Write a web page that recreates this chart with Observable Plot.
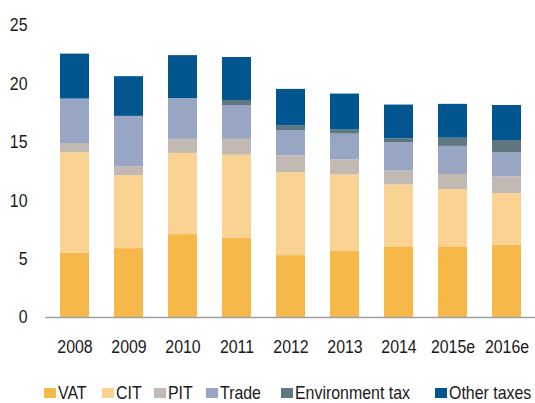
<!DOCTYPE html>
<html>
<head>
<meta charset="utf-8">
<script src="https://cdn.jsdelivr.net/npm/d3@7"></script>
<script src="https://cdn.jsdelivr.net/npm/@observablehq/plot@0.6"></script>
<style>
  html, body { margin: 0; padding: 0; background: #fff; }
  body { width: 535px; height: 403px; overflow: hidden; font-family: "Liberation Sans", Arial, sans-serif; color: #1a1a1a; }
  #chart { position: relative; }
  #legend { position: relative; height: 43px; font-size: 18.5px; }
  .item { position: absolute; bottom: 0; height: 21px; display: flex; align-items: center; white-space: nowrap; }
  .sw { display: inline-block; width: 12px; height: 10px; margin-right: 2px; margin-top: 1px; flex: none; }
  .tx { display: inline-block; line-height: 21px; transform: scaleX(0.86); transform-origin: 0 50%; }
</style>
</head>
<body>
<div id="chart"></div>
<div id="legend"></div>
<script>
const years = ["2008", "2009", "2010", "2011", "2012", "2013", "2014", "2015e", "2016e"];
const seriesNames = ["VAT", "CIT", "PIT", "Trade", "Environment tax", "Other taxes"];
const vat   = [5.5, 5.9, 7.1, 6.8, 5.3, 5.7, 6.05, 6.05, 6.2];
const cit   = [8.6, 6.25, 6.95, 7.1, 7.1, 6.5, 5.3, 4.9, 4.4];
const pit   = [0.8, 0.77, 1.2, 1.35, 1.45, 1.3, 1.2, 1.3, 1.45];
const trade = [3.8, 4.3, 3.5, 2.9, 2.15, 2.2, 2.4, 2.4, 2.05];
const env   = [0, 0, 0, 0.43, 0.43, 0.35, 0.34, 0.7, 1.05];
const other = [3.85, 3.4, 3.67, 3.68, 3.1, 3.08, 2.9, 2.9, 3.0];
const yTicks = [0, 5, 10, 15, 20, 25];
const colors = ["#F7B84A", "#FAD291", "#C2B9B3", "#98A5C3", "#5F7780", "#02568F"];

const seriesValues = [vat, cit, pit, trade, env, other];
const data = [];
seriesNames.forEach((s, i) => {
  years.forEach((y, j) => data.push({year: y, series: s, value: seriesValues[i][j]}));
});

const chart = Plot.plot({
  width: 535,
  height: 360,
  marginLeft: 45,
  marginRight: 0,
  marginTop: 25,
  marginBottom: 43,
  style: {fontFamily: "'Liberation Sans', Arial, sans-serif", fontSize: "18.5px", color: "#1a1a1a"},
  x: {domain: years, paddingInner: 0.47, paddingOuter: 0.235, label: null, tickSize: 0, tickPadding: 22},
  y: {domain: [0, 25], ticks: yTicks, label: null, tickSize: 0, tickPadding: 18},
  color: {domain: seriesNames, range: colors},
  marks: [
    Plot.barY(data, {x: "year", y: "value", fill: "series", order: seriesNames}),
    Plot.ruleY([0], {stroke: "#A0A0A0", strokeWidth: 1.5})
  ]
});
// condensed look for tick labels
chart.querySelectorAll("text").forEach(t => {
  const tr = t.getAttribute("transform") || "";
  t.setAttribute("transform", (tr + " scale(0.86,1)").trim());
});
document.getElementById("chart").appendChild(chart);

const legend = document.getElementById("legend");
const legendLeft = [44, 102, 154, 206, 281, 435];
seriesNames.forEach((s, i) => {
  const it = document.createElement("div");
  it.className = "item";
  it.style.left = legendLeft[i] + "px";
  const sw = document.createElement("span");
  sw.className = "sw";
  sw.style.background = colors[i];
  const tx = document.createElement("span");
  tx.className = "tx";
  tx.textContent = s;
  it.appendChild(sw); it.appendChild(tx);
  legend.appendChild(it);
});
</script>
</body>
</html>
